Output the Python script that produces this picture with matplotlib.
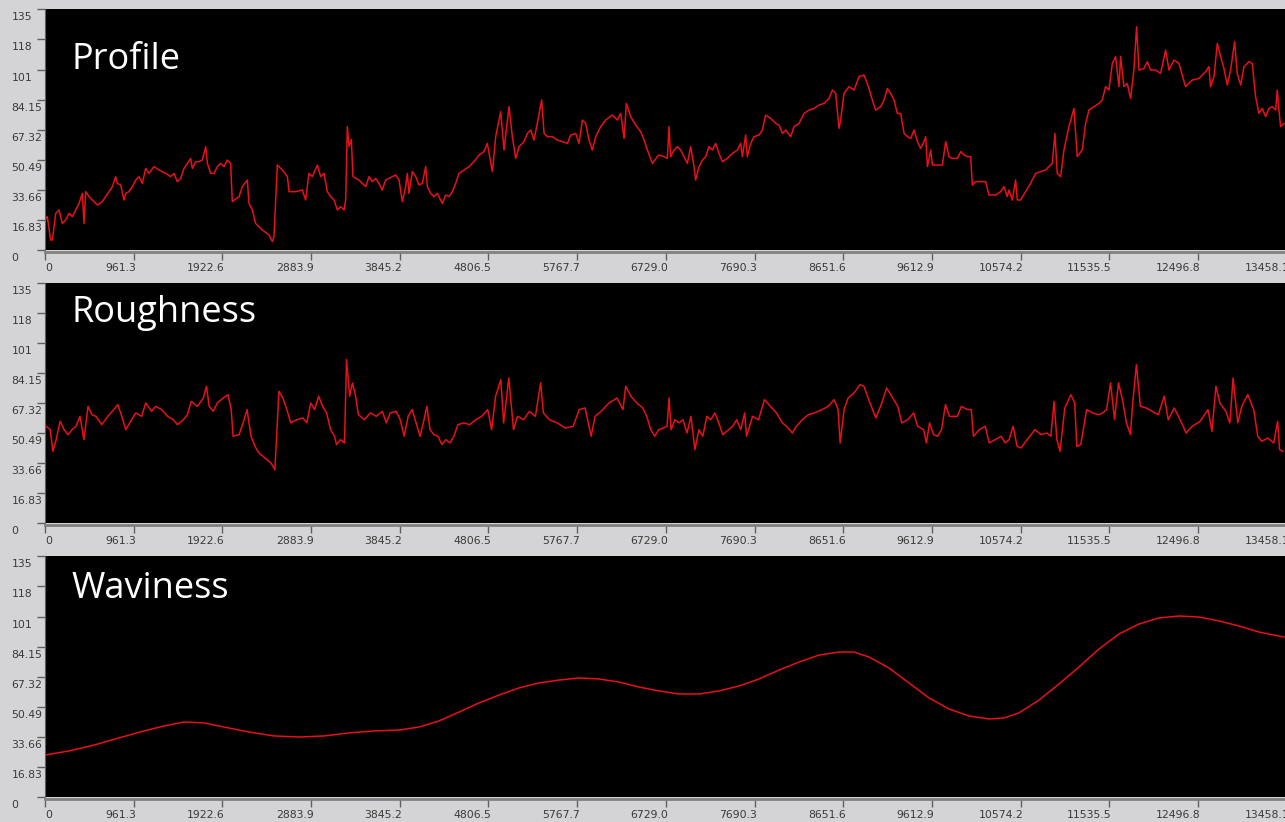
import matplotlib
matplotlib.use("Agg")
import matplotlib.pyplot as plt
from matplotlib.transforms import ScaledTranslation

# profile trace
profile_x = [0, 25, 61, 80, 116, 152, 188, 224, 260, 296, 332, 369, 405, 423, 441, 477, 513, 567, 621, 658,
             694, 730, 766, 784, 820, 856, 874, 910, 947, 983, 1019, 1055, 1091, 1127, 1181, 1236, 1308, 1362,
             1398, 1434, 1471, 1507, 1543, 1579, 1597, 1633, 1669, 1705, 1742, 1760, 1796, 1832, 1868, 1904,
             1940, 1976, 2012, 2030, 2103, 2139, 2193, 2211, 2247, 2283, 2356, 2428, 2464, 2482, 2518, 2572,
             2627, 2645, 2717, 2789, 2825, 2861, 2898, 2952, 2988, 3024, 3060, 3096, 3133, 3169, 3205, 3241,
             3259, 3277, 3295, 3320, 3338, 3403, 3440, 3476, 3512, 3548, 3584, 3620, 3656, 3692, 3729, 3765,
             3801, 3837, 3873, 3909, 3927, 3945, 3981, 4018, 4054, 4090, 4126, 4144, 4180, 4216, 4252, 4307,
             4343, 4379, 4415, 4451, 4487, 4541, 4596, 4650, 4704, 4758, 4794, 4849, 4885, 4939, 4975, 5029,
             5065, 5102, 5138, 5192, 5228, 5264, 5300, 5336, 5383, 5409, 5445, 5499, 5553, 5607, 5662, 5698,
             5752, 5788, 5824, 5860, 5896, 5932, 5969, 6023, 6077, 6149, 6204, 6240, 6276, 6301, 6348, 6402,
             6456, 6493, 6529, 6583, 6637, 6655, 6709, 6745, 6763, 6781, 6818, 6854, 6890, 6926, 6962, 6998,
             7034, 7052, 7089, 7125, 7161, 7197, 7233, 7269, 7305, 7341, 7396, 7450, 7504, 7540, 7558, 7594,
             7612, 7649, 7685, 7739, 7775, 7811, 7865, 7920, 7956, 7992, 8028, 8082, 8118, 8172, 8227, 8281,
             8335, 8389, 8443, 8498, 8534, 8570, 8606, 8624, 8660, 8714, 8769, 8823, 8877, 8931, 8967, 9003,
             9058, 9094, 9130, 9166, 9202, 9238, 9274, 9311, 9347, 9383, 9419, 9455, 9491, 9527, 9545, 9564,
             9600, 9618, 9654, 9726, 9762, 9798, 9834, 9889, 9925, 9961, 9997, 10033, 10051, 10086, 10195,
             10231, 10303, 10357, 10393, 10430, 10448, 10484, 10520, 10538, 10574, 10628, 10682, 10737, 10791,
             10845, 10881, 10917, 10946, 10971, 11008, 11044, 11098, 11152, 11188, 11242, 11279, 11315, 11369,
             11423, 11459, 11495, 11531, 11568, 11604, 11640, 11658, 11694, 11730, 11766, 11802, 11831, 11857,
             11911, 11947, 11983, 12037, 12091, 12146, 12182, 12236, 12290, 12326, 12362, 12435, 12507, 12579,
             12615, 12633, 12670, 12706, 12742, 12778, 12814, 12850, 12894, 12922, 12959, 12995, 13049, 13085,
             13121, 13157, 13193, 13230, 13266, 13302, 13338, 13356, 13374, 13392, 13428]
profile_y = [16.8, 18.7, 5.6, 5.6, 20.5, 22.4, 14.9, 16.8, 20.5, 18.7, 22.4, 26.1, 31.7, 14.9, 32.7, 29.9, 28.0,
             25.2, 27.1, 29.9, 32.7, 35.5, 41.1, 37.3, 36.4, 28.0, 31.7, 32.7, 35.5, 39.2, 41.1, 37.3, 45.7, 42.9,
             46.7, 44.8, 42.9, 41.1, 42.9, 38.3, 40.1, 45.7, 48.5, 51.3, 45.7, 49.5, 49.5, 50.4, 57.9, 48.5, 42.9,
             42.9, 46.7, 48.5, 46.7, 50.4, 48.5, 27.1, 29.9, 35.5, 39.2, 26.1, 22.4, 14.9, 11.2, 8.4, 4.7, 7.5,
             47.6, 44.8, 41.1, 32.7, 32.7, 33.6, 28.0, 42.9, 41.1, 47.6, 41.1, 42.9, 32.7, 29.9, 28.0, 22.4, 24.3,
             22.4, 28.0, 69.1, 57.9, 62.0, 41.1, 39.2, 37.3, 35.5, 41.1, 38.3, 40.1, 37.3, 33.6, 39.2, 40.1, 41.1,
             42.0, 39.2, 27.1, 35.5, 42.9, 31.7, 43.9, 41.1, 36.4, 37.3, 46.7, 35.5, 31.7, 29.9, 31.7, 26.1, 30.8,
             29.9, 32.7, 37.3, 42.9, 44.8, 46.7, 49.5, 53.2, 55.1, 59.7, 43.9, 63.5, 77.5, 56.0, 80.3, 63.5, 51.3,
             57.9, 60.7, 65.3, 67.2, 61.6, 70.9, 84.0, 65.3, 63.5, 63.5, 61.6, 60.7, 59.7, 64.4, 65.3, 59.7, 72.8,
             70.9, 61.6, 56.0, 63.5, 69.1, 72.8, 75.6, 72.8, 76.5, 62.5, 82.1, 74.7, 70.0, 66.3, 61.6, 56.0, 48.5,
             52.3, 53.2, 52.3, 51.3, 69.1, 52.3, 56.0, 57.9, 56.0, 52.3, 48.5, 57.9, 46.7, 39.2, 46.7, 50.4, 52.3,
             57.9, 56.0, 59.7, 54.1, 49.5, 51.3, 54.1, 56.0, 59.7, 52.3, 64.4, 52.3, 59.7, 63.5, 64.4, 67.2, 75.6,
             73.7, 70.9, 70.0, 65.3, 67.2, 63.5, 69.1, 70.9, 76.5, 78.4, 79.3, 81.2, 82.1, 84.9, 89.6, 87.7, 68.1,
             72.8, 87.7, 91.5, 89.6, 97.1, 98.0, 90.5, 84.0, 78.4, 80.3, 84.0, 90.5, 87.7, 84.0, 76.5, 76.5, 65.3,
             63.5, 62.5, 67.2, 60.7, 56.9, 60.7, 63.5, 46.7, 56.0, 47.6, 47.6, 47.6, 60.7, 52.3, 51.3, 51.3, 55.1,
             53.2, 52.3, 52.3, 36.4, 38.3, 38.3, 30.8, 30.8, 32.7, 35.5, 29.9, 33.6, 28.0, 39.2, 28.0, 28.0, 32.7,
             37.3, 42.9, 43.9, 44.8, 46.7, 48.5, 65.3, 42.9, 41.1, 56.0, 69.1, 79.3, 52.3, 56.0, 70.9, 78.4, 80.3,
             82.1, 84.0, 91.5, 89.6, 104.5, 108.3, 91.5, 108.3, 91.5, 93.3, 84.9, 100.8, 125.1, 100.8, 101.7,
             105.5, 100.8, 100.8, 98.9, 112.0, 100.8, 106.4, 104.5, 98.0, 91.5, 95.2, 96.1, 99.9, 102.7, 91.5,
             97.1, 115.7, 108.3, 101.7, 92.4, 100.8, 116.7, 98.9, 92.4, 102.7, 105.5, 104.5, 85.9, 76.5, 79.3,
             74.7, 79.3, 80.3, 78.4, 89.6, 78.4, 69.1, 70.9]

# roughness trace, middle panel
rough_x = [13, 56, 86, 121, 164, 207, 250, 293, 336, 379, 422, 466, 509, 552, 616, 681, 746, 789, 832, 875, 918,
           983, 1048, 1091, 1155, 1198, 1263, 1328, 1392, 1436, 1500, 1543, 1586, 1651, 1716, 1750, 1780, 1824,
           1867, 1931, 1983, 2018, 2039, 2104, 2147, 2190, 2233, 2276, 2319, 2384, 2449, 2492, 2535, 2578, 2621,
           2664, 2729, 2794, 2837, 2880, 2923, 2966, 3009, 3052, 3095, 3138, 3160, 3203, 3246, 3268, 3302, 3332,
           3367, 3397, 3462, 3526, 3591, 3656, 3699, 3742, 3807, 3850, 3893, 3936, 3979, 4022, 4065, 4108, 4139,
           4173, 4216, 4259, 4302, 4345, 4389, 4432, 4475, 4539, 4604, 4669, 4733, 4798, 4841, 4884, 4940, 4971,
           5027, 5078, 5121, 5186, 5251, 5315, 5372, 5402, 5466, 5552, 5639, 5725, 5790, 5854, 5919, 5962, 6027,
           6113, 6199, 6264, 6294, 6350, 6415, 6479, 6522, 6565, 6609, 6652, 6699, 6742, 6764, 6785, 6828, 6872,
           6915, 6958, 7001, 7044, 7087, 7130, 7173, 7216, 7260, 7303, 7346, 7410, 7454, 7497, 7540, 7583, 7604,
           7669, 7734, 7798, 7863, 7928, 7992, 8036, 8100, 8143, 8208, 8273, 8337, 8424, 8488, 8553, 8596, 8618,
           8661, 8704, 8768, 8833, 8876, 8941, 9005, 9070, 9122, 9178, 9243, 9286, 9350, 9415, 9458, 9523, 9553,
           9587, 9631, 9674, 9717, 9760, 9803, 9889, 9932, 9997, 10040, 10062, 10126, 10191, 10234, 10299, 10363,
           10407, 10450, 10493, 10536, 10579, 10644, 10730, 10795, 10859, 10902, 10937, 10967, 11001, 11053,
           11118, 11161, 11183, 11226, 11290, 11355, 11420, 11463, 11506, 11549, 11592, 11635, 11678, 11721,
           11765, 11786, 11829, 11872, 11937, 12002, 12066, 12131, 12174, 12239, 12303, 12368, 12433, 12519,
           12605, 12648, 12691, 12734, 12799, 12842, 12877, 12928, 12971, 13036, 13101, 13144, 13187, 13252,
           13317, 13360, 13381, 13416]
rough_y = [54.4, 52.5, 40.3, 46.9, 57.2, 52.5, 49.7, 52.5, 54.4, 60.0, 46.9, 65.6, 60.9, 60.0, 55.3, 60.0, 63.8,
           66.6, 60.0, 52.5, 56.3, 61.9, 60.0, 67.5, 62.8, 65.6, 63.8, 60.0, 58.1, 55.3, 58.1, 60.9, 68.4, 65.6,
           70.3, 76.9, 65.6, 62.8, 67.5, 70.3, 72.2, 63.8, 48.8, 49.7, 56.3, 63.8, 48.8, 43.1, 39.4, 36.6, 33.8,
           30.0, 74.1, 70.3, 63.8, 56.3, 58.1, 59.1, 56.3, 67.5, 63.8, 71.3, 65.6, 61.9, 52.5, 48.8, 44.1, 46.9,
           45.0, 91.9, 71.3, 78.8, 71.3, 60.9, 58.1, 61.9, 60.0, 62.8, 56.3, 61.9, 62.8, 58.1, 48.8, 60.0, 63.8,
           56.3, 48.8, 58.1, 65.6, 52.5, 49.7, 48.8, 44.1, 46.9, 45.0, 48.8, 55.3, 56.3, 55.3, 58.1, 60.0, 63.8,
           52.5, 71.3, 80.6, 56.3, 81.6, 52.5, 60.0, 58.1, 62.8, 60.0, 78.8, 61.9, 58.1, 56.3, 53.4, 54.4, 63.8,
           64.7, 48.8, 60.0, 62.8, 67.5, 70.3, 63.8, 76.9, 71.3, 67.5, 64.7, 60.0, 52.5, 48.8, 52.5, 53.4, 54.4,
           70.3, 52.5, 58.1, 56.3, 58.1, 50.6, 60.0, 41.3, 52.5, 48.8, 60.0, 58.1, 61.9, 56.3, 49.7, 52.5, 54.4,
           58.1, 52.5, 61.9, 48.8, 60.0, 58.1, 69.4, 65.6, 61.9, 56.3, 54.4, 50.6, 54.4, 58.1, 60.9, 61.9, 63.8,
           65.6, 69.4, 63.8, 45.0, 63.8, 70.3, 73.1, 77.8, 76.9, 67.5, 59.1, 67.5, 75.9, 71.3, 65.6, 56.3, 58.1,
           61.9, 54.4, 52.5, 45.0, 56.3, 49.7, 48.8, 52.5, 66.6, 60.0, 60.0, 65.6, 63.8, 63.8, 48.8, 52.5, 54.4,
           45.0, 46.9, 48.8, 45.0, 46.9, 54.4, 43.1, 42.2, 46.9, 52.5, 49.7, 50.6, 48.8, 68.4, 46.9, 40.3, 64.7,
           72.2, 67.5, 43.1, 44.1, 63.8, 61.9, 60.9, 61.9, 63.8, 78.8, 58.1, 78.8, 69.4, 56.3, 49.7, 65.6, 89.1,
           65.6, 64.7, 62.8, 60.9, 71.3, 58.1, 64.7, 58.1, 50.6, 54.4, 57.2, 63.8, 51.6, 76.9, 67.5, 62.8, 56.3,
           81.6, 56.3, 65.6, 72.2, 63.8, 48.8, 45.9, 47.8, 45.0, 57.2, 41.3, 40.3]

# waviness (smooth long-wave component), bottom panel
wavi_x = [0, 260, 531, 802, 1073, 1290, 1506, 1723, 1940, 2211, 2482, 2753, 3024, 3295, 3566, 3837, 4053,
          4270, 4487, 4704, 4920, 5137, 5354, 5571, 5788, 6004, 6221, 6438, 6655, 6871, 7088, 7305, 7522,
          7738, 7955, 8172, 8389, 8605, 8768, 8931, 9147, 9364, 9581, 9798, 10014, 10231, 10394, 10556,
          10773, 10990, 11206, 11423, 11640, 11857, 12073, 12290, 12507, 12724, 12941, 13157, 13428]
wavi_y = [23.5, 25.8, 29.1, 33.1, 37.0, 39.8, 42.0, 41.5, 39.2, 36.4, 34.2, 33.6, 34.2, 35.9, 37.0, 37.5, 39.2,
          42.6, 47.6, 52.7, 57.1, 61.1, 63.9, 65.5, 66.7, 66.1, 64.4, 61.6, 59.4, 57.7, 57.7, 59.4, 62.2,
          66.1, 71.1, 75.6, 79.5, 81.2, 81.2, 78.4, 72.3, 63.9, 55.5, 49.3, 45.4, 43.7, 44.3, 47.1,
          54.3, 63.3, 72.8, 82.9, 91.3, 96.9, 100.3, 101.4, 100.8, 98.6, 95.8, 92.4, 89.6]

titles = ["Profile", "Roughness", "Waviness"]
y_ticks = [0, 16.83, 33.66, 50.49, 67.32, 84.15, 101, 118, 135]
y_labels = ["0", "16.83", "33.66", "50.49", "67.32", "84.15", "101", "118", "135"]
x_ticks = [0, 961.3, 1922.6, 2883.9, 3845.2, 4806.5, 5767.7, 6729.0, 7690.3, 8651.6, 9612.9,
           10574.2, 11535.5, 12496.8, 13458.1]
x_labels = ["0", "961.3", "1922.6", "2883.9", "3845.2", "4806.5", "5767.7", "6729.0", "7690.3",
            "8651.6", "9612.9", "10574.2", "11535.5", "12496.8", "13458.1"]

W, H = 1285, 822
BG = "#d4d4d6"
fig = plt.figure(figsize=(W / 100, H / 100), dpi=100, facecolor=BG)

# (top px, bottom px, title baseline in axes fraction)
panels = [(9, 250, 0.751), (283, 523, 0.8375), (556, 797, 0.826)]
series = [(profile_x, profile_y), (rough_x, rough_y), (wavi_x, wavi_y)]

down = ScaledTranslation(0, -3 / 100, fig.dpi_scale_trans)
right = ScaledTranslation(2.5 / 100, 0, fig.dpi_scale_trans)

for (top, bot, tb), (xs, ys), title in zip(panels, series, titles):
  ax = fig.add_axes([45 / W, (H - bot) / H, 1242.8 / W, (bot - top) / H])
  ax.set_facecolor("black")
  ax.plot(xs, ys, color="#e8101a", lw=1.1)
  ax.set_xlim(0, 13470)
  ax.set_ylim(0, 135)

  ax.set_yticks(y_ticks)
  ax.set_yticklabels(y_labels)
  ax.set_xticks(x_ticks)
  ax.set_xticklabels(x_labels)

  for s in ["top", "right"]:
    ax.spines[s].set_visible(False)
  ax.spines["left"].set_color("#606060")
  ax.spines["bottom"].set_color("#808080")
  ax.spines["bottom"].set_linewidth(2)
  ax.spines["bottom"].set_position(("outward", 1.5))

  ax.tick_params(axis="y", length=6, width=1, color="#606060", labelsize=7.8,
                 labelcolor="#3a3a3a", pad=18)
  ax.tick_params(axis="x", length=6, width=1, color="#606060", labelsize=7.8,
                 labelcolor="#3a3a3a", pad=2)
  for lbl in ax.get_yticklabels():
    lbl.set_ha("left")
    lbl.set_va("top")
    lbl.set_transform(lbl.get_transform() + down)
  for i, lbl in enumerate(ax.get_xticklabels()):
    if i == 0:
      lbl.set_ha("left")
    else:
      lbl.set_ha("right")
      lbl.set_transform(lbl.get_transform() + right)

  ax.text(0.021, tb, title, transform=ax.transAxes, color="white",
          fontsize=26, family="Open Sans", va="baseline", ha="left")

fig.savefig("out.png", dpi=100, facecolor=BG)
